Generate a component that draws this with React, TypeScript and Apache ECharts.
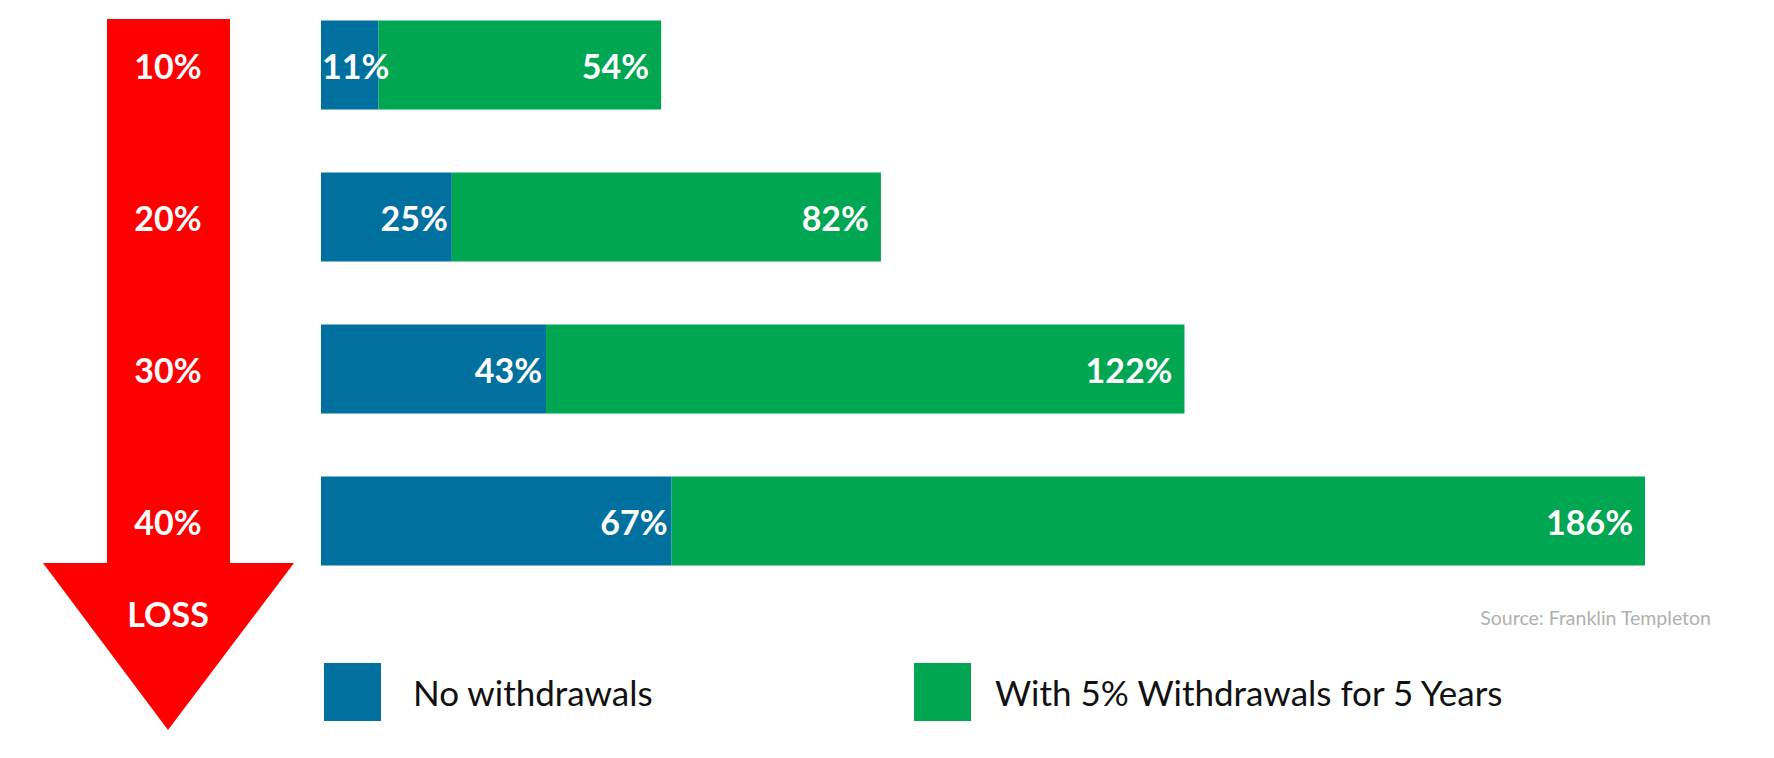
import { useEffect, useRef } from 'react';
import * as echarts from 'echarts';
import type { EChartsOption } from 'echarts';

const categories = ['10%', '20%', '30%', '40%'];
const noWithdrawals = [11, 25, 43, 67];
const withWithdrawals = [54, 82, 122, 186];
const seriesNames = ['No withdrawals', 'With 5% Withdrawals for 5 Years'];

const FONT = 'Lato, "Noto Sans", sans-serif';
const BLUE = '#00709e';
const GREEN = '#00a651';
const RED = '#ff0000';

// the chart div is pulled up by this much so the first bar band can start above the page
const SHIFT = 11;

const App = () => {
  const chartRef = useRef<HTMLDivElement>(null);

  useEffect(() => {
    if (!chartRef.current) return;
    document.body.style.margin = '0';

    const chart = echarts.init(chartRef.current, undefined, { renderer: 'svg' });

    // stacked total decides where the longest bar ends
    const maxTotal = Math.max(...noWithdrawals.map((v, i) => v + withWithdrawals[i]));

    const barLabel = {
      show: true,
      position: 'insideRight' as const,
      color: '#fff',
      fontFamily: FONT,
      fontWeight: 'bold' as const,
      fontSize: 34,
      formatter: '{c}%',
    };

    const legendBase = {
      top: 663 + SHIFT,
      padding: 0,
      itemWidth: 57,
      itemHeight: 58,
      icon: 'rect',
      selectedMode: false,
    };

    const option: EChartsOption = {
      animation: false,
      backgroundColor: '#fff',
      grid: {
        left: 321,
        right: 129,
        top: 0,
        height: 608,
      },
      xAxis: {
        type: 'value',
        show: false,
        min: 0,
        max: maxTotal,
      },
      yAxis: {
        type: 'category',
        inverse: true,
        data: categories,
        z: 10,
        axisLine: { show: false },
        axisTick: { show: false },
        splitLine: { show: false },
        axisLabel: {
          color: '#fff',
          fontFamily: FONT,
          fontWeight: 'bold',
          fontSize: 34,
          align: 'center',
          margin: 153,
        },
      },
      legend: [
        {
          ...legendBase,
          left: 324,
          data: [seriesNames[0]],
          formatter: (name: string) => `{t|${name}}`,
          textStyle: {
            rich: {
              t: { padding: [0, 0, 0, 27], fontSize: 35, fontFamily: FONT, color: '#111' },
            },
          },
        },
        {
          ...legendBase,
          left: 914,
          data: [seriesNames[1]],
          formatter: (name: string) => `{t|${name}}`,
          textStyle: {
            rich: {
              t: { padding: [0, 0, 0, 19], fontSize: 35, fontFamily: FONT, color: '#111' },
            },
          },
        },
      ],
      graphic: [
        {
          type: 'polygon',
          z: 0,
          shape: {
            points: [
              [107, 19 + SHIFT],
              [230, 19 + SHIFT],
              [230, 563 + SHIFT],
              [294, 563 + SHIFT],
              [168, 730 + SHIFT],
              [43, 563 + SHIFT],
              [107, 563 + SHIFT],
            ],
          },
          style: { fill: RED },
        },
        {
          type: 'text',
          z: 20,
          x: 168,
          y: 613 + SHIFT,
          style: {
            text: 'LOSS',
            fill: '#fff',
            font: `bold 34px ${FONT}`,
            textAlign: 'center',
            textVerticalAlign: 'middle',
          },
        },
        {
          type: 'text',
          x: 1711,
          y: 617 + SHIFT,
          style: {
            text: 'Source: Franklin Templeton',
            fill: '#b0b0b0',
            font: `19.5px ${FONT}`,
            textAlign: 'right',
            textVerticalAlign: 'middle',
          },
        },
      ],
      series: [
        {
          name: seriesNames[0],
          type: 'bar',
          stack: 'total',
          barWidth: 89,
          // first label is wider than its segment, so it starts at the bar's left edge
          data: noWithdrawals.map((v, i) =>
            i === 0 ? { value: v, label: { position: 'insideLeft', distance: 1 } } : v
          ),
          itemStyle: { color: BLUE },
          label: { ...barLabel, distance: 4 },
        },
        {
          name: seriesNames[1],
          type: 'bar',
          stack: 'total',
          barWidth: 89,
          data: withWithdrawals,
          itemStyle: { color: GREEN },
          label: { ...barLabel, distance: 12 },
        },
      ],
    };

    chart.setOption(option);

    return () => {
      chart.dispose();
    };
  }, []);

  return (
    <div
      ref={chartRef}
      style={{ position: 'relative', top: -SHIFT, width: 1774, height: 758 + SHIFT }}
    />
  );
};

export default App;
